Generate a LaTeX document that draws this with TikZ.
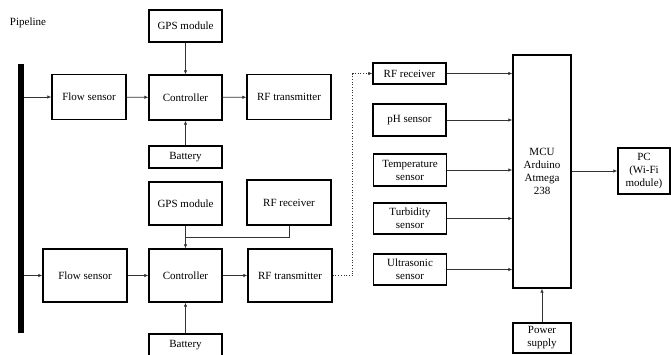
\documentclass[tikz,border=0pt]{standalone}
\usepackage{fontspec}
\setmainfont{Liberation Serif}
\usepackage{xcolor}
\usetikzlibrary{positioning, arrows.meta, calc}
\definecolor{cLine}{HTML}{333333}

\begin{document}
\begin{tikzpicture}[x=1pt, y=-1pt,
    blk/.style={draw, line width=1.4pt, inner sep=0pt, align=center,
                font=\fontsize{11}{13}\selectfont},
    arr/.style={-{Latex[length=4pt, width=3.5pt]}, line width=0.7pt, draw=cLine},
    lnk/.style={line width=0.7pt, draw=cLine},
  ]
  \useasboundingbox (0,0) rectangle (671,354);

  % pipeline
  \node[font=\fontsize{11}{13}\selectfont] (plabel) at (28,23) {Pipeline};
  \node[fill=black, inner sep=0pt, minimum width=6pt, minimum height=269pt] (pipe) at (21,198.5) {};

  % upper node
  \node[blk, minimum width=74pt, minimum height=45pt] (fs1)  at (89,97)    {Flow sensor};
  \node[blk, minimum width=73pt, minimum height=45pt] (ctl1) at (185.5,97.5) {Controller};
  \node[blk, minimum width=73pt, minimum height=32pt] (gps1) at (185.5,26) {GPS module};
  \node[blk, minimum width=73pt, minimum height=22pt] (bat1) at (185.5,157) {Battery};
  \node[blk, minimum width=84pt, minimum height=45pt] (tx1)  at (289,97)   {RF transmitter};

  % lower node
  \node[blk, minimum width=73pt, minimum height=43pt] (gps2) at (185.5,203.5) {GPS module};
  \node[blk, minimum width=84pt, minimum height=45pt] (rx2)  at (289,202.5)   {RF receiver};
  \node[blk, minimum width=84pt, minimum height=53pt] (fs2)  at (85,275.5)    {Flow sensor};
  \node[blk, minimum width=73pt, minimum height=53pt] (ctl2) at (185.5,275.5) {Controller};
  \node[blk, minimum width=84pt, minimum height=53pt] (tx2)  at (290,275.5)   {RF transmitter};
  \node[blk, minimum width=73pt, minimum height=22pt] (bat2) at (185.5,345)   {Battery};
  \coordinate (join) at (185.5,237);

  % base station
  \node[blk, minimum width=73pt, minimum height=21pt] (rx3)   at (409.5,73.5) {RF receiver};
  \node[blk, minimum width=73pt, minimum height=32pt] (ph)    at (409.5,120)  {pH sensor};
  \node[blk, minimum width=73pt, minimum height=32pt] (temp)  at (410,170)    {Temperature\\sensor};
  \node[blk, minimum width=73pt, minimum height=31pt] (turb)  at (410,218.5)  {Turbidity\\sensor};
  \node[blk, minimum width=73pt, minimum height=31pt] (ultra) at (410,269.5)  {Ultrasonic\\sensor};
  \node[blk, minimum width=58pt, minimum height=233pt] (mcu)  at (542,171.5)  {MCU\\Arduino\\Atmega\\238};
  \node[blk, minimum width=52pt, minimum height=46pt] (pc)    at (644,171)    {PC\\(Wi-Fi\\module)};
  \node[blk, minimum width=58pt, minimum height=30pt] (pwr)   at (542,338)    {Power\\supply};

  \draw[arr] (pipe.east |- fs1) -- (fs1);
  \draw[arr] (fs1) -- (ctl1);
  \draw[arr] (ctl1) -- (tx1);
  \draw[arr] (gps1) -- (ctl1);
  \draw[arr] (bat1) -- (ctl1);

  \draw[arr] (pipe.east |- fs2) -- (fs2);
  \draw[arr] (fs2) -- (ctl2);
  \draw[arr] (ctl2) -- (tx2);
  \draw[arr] (gps2) -- (ctl2);
  \draw[arr] (bat2) -- (ctl2);
  \draw[lnk] (rx2.south) |- (join);

  \draw[arr, dotted] (tx2.east) -- ++(20,0) |- (rx3.west);

  \draw[arr] (rx3.east)   -- (rx3 -| mcu.west);
  \draw[arr] (ph.east)    -- (ph -| mcu.west);
  \draw[arr] (temp.east)  -- (temp -| mcu.west);
  \draw[arr] (turb.east)  -- (turb -| mcu.west);
  \draw[arr] (ultra.east) -- (ultra -| mcu.west);
  \draw[arr] (mcu.east |- pc) -- (pc);
  \draw[arr] (pwr) -- (mcu);
\end{tikzpicture}
\end{document}
